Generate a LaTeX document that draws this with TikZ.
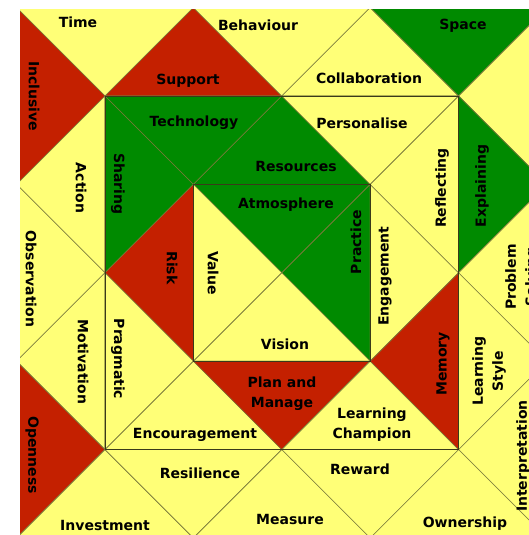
\documentclass[tikz,border=0pt]{standalone}
\usepackage{fontspec}
\setmainfont{DejaVu Sans}
\definecolor{qy}{HTML}{FFFF77}
\definecolor{qr}{HTML}{C42000}
\definecolor{qg}{HTML}{008A00}
\definecolor{qline}{HTML}{7A7A3A}
\definecolor{qdark}{HTML}{3A3A1A}
\newcommand\qtri[4]{\filldraw[tri,fill=#1] (#2)--(#3)--(#4)--cycle;}
\begin{document}
\begin{tikzpicture}[x=1pt,y=-1pt,
  lbl/.style={font=\bfseries\fontsize{14}{20}\selectfont, text=black, inner sep=0pt, align=center},
  tri/.style={draw=qline, line width=0.6pt, line join=round},
  frame/.style={draw=qdark, line width=0.8pt}]
\useasboundingbox (0,0) rectangle (529,535);
\fill[white] (0,0) rectangle (529,535);
\foreach \i in {0,...,6}{\foreach \j in {0,...,6}{\coordinate (p\i\j) at ({105+(\i-1)*88.4},{96+(\j-1)*88.4});}}
\begin{scope}
\clip (20,10) rectangle (529,535);
\qtri{qy}{p00}{p20}{p11}
\qtri{qr}{p00}{p11}{p02}
\qtri{qr}{p11}{p20}{p31}
\qtri{qy}{p20}{p40}{p31}
\qtri{qy}{p31}{p40}{p51}
\qtri{qg}{p40}{p60}{p51}
\qtri{qy}{p51}{p60}{p62}
\qtri{qy}{p11}{p02}{p13}
\qtri{qy}{p02}{p13}{p04}
\qtri{qy}{p13}{p04}{p15}
\qtri{qr}{p04}{p15}{p06}
\qtri{qy}{p06}{p15}{p26}
\qtri{qg}{p11}{p31}{p22}
\qtri{qg}{p11}{p22}{p13}
\qtri{qr}{p13}{p22}{p24}
\qtri{qy}{p13}{p24}{p15}
\qtri{qy}{p15}{p24}{p35}
\qtri{qy}{p15}{p35}{p26}
\qtri{qy}{p26}{p35}{p46}
\qtri{qg}{p22}{p31}{p42}
\qtri{qy}{p31}{p51}{p42}
\qtri{qg}{p22}{p42}{p33}
\qtri{qy}{p22}{p33}{p24}
\qtri{qg}{p42}{p44}{p33}
\qtri{qy}{p24}{p33}{p44}
\qtri{qr}{p24}{p44}{p35}
\qtri{qy}{p35}{p44}{p55}
\qtri{qy}{p35}{p55}{p46}
\qtri{qy}{p42}{p53}{p44}
\qtri{qy}{p42}{p51}{p53}
\qtri{qr}{p53}{p44}{p55}
\qtri{qg}{p51}{p62}{p53}
\qtri{qy}{p53}{p62}{p64}
\qtri{qy}{p53}{p64}{p55}
\qtri{qy}{p55}{p64}{p66}
\qtri{qy}{p46}{p55}{p66}
\draw[frame] (p11) rectangle (p55);
\draw[frame] (p22) rectangle (p44);
\node[lbl] (time) at (78,22) {Time};
\node[lbl,rotate=-90] (inclusive) at (34,96) {Inclusive};
\node[lbl] (support) at (188,81) {Support};
\node[lbl] (behaviour) at (258,25) {Behaviour};
\node[lbl] (collab) at (369,78) {Collaboration};
\node[lbl] (space) at (463,26) {Space};
\node[lbl] (tech) at (194,123) {Technology};
\node[lbl] (personalise) at (362,123) {Personalise};
\node[lbl] (resources) at (296,166) {Resources};
\node[lbl] (atmos) at (286,205) {Atmosphere};
\node[lbl,rotate=-90] (action) at (81,188) {Action};
\node[lbl,rotate=-90] (sharing) at (118,184) {Sharing};
\node[lbl,rotate=-90] (observation) at (31,279) {Observation};
\node[lbl,rotate=-90] (risk) at (172,268) {Risk};
\node[lbl,rotate=-90] (value) at (213,273) {Value};
\node[lbl,rotate=90] (practice) at (356,242) {Practice};
\node[lbl,rotate=90] (engagement) at (385,276) {Engagement};
\node[lbl,rotate=90] (reflecting) at (442,188) {Reflecting};
\node[lbl,rotate=90] (explaining) at (482,186) {Explaining};
\node[lbl,rotate=90] (problem) at (522,277) {Problem\\Solving};
\node[lbl,rotate=90] (lstyle) at (489,371) {Learning\\Style};
\node[lbl,rotate=90] (memory) at (443,364) {Memory};
\node[lbl,rotate=-90] (pragmatic) at (118,359) {Pragmatic};
\node[lbl,rotate=-90] (motivation) at (83,362) {Motivation};
\node[lbl,rotate=-90] (openness) at (32,455) {Openness};
\node[lbl] (vision) at (285,344) {Vision};
\node[lbl] (plan) at (282,394) {Plan and\\Manage};
\node[lbl] (champion) at (372,425) {Learning\\Champion};
\node[lbl] (encour) at (195,435) {Encouragement};
\node[lbl] (resilience) at (200,473) {Resilience};
\node[lbl] (reward) at (360,469) {Reward};
\node[lbl] (measure) at (290,519) {Measure};
\node[lbl] (investment) at (105,525) {Investment};
\node[lbl] (ownership) at (465,524) {Ownership};
\node[lbl,rotate=90] (interp) at (523,456) {Interpretation};
\end{scope}
\end{tikzpicture}
\end{document}
